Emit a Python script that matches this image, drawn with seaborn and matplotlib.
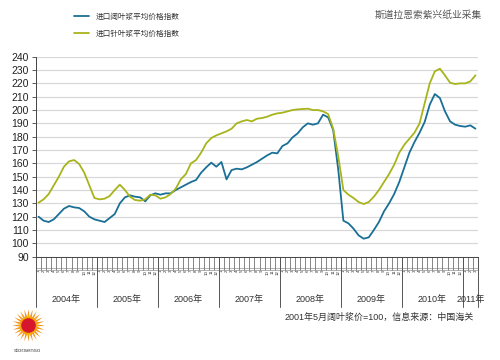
import numpy as np
import pandas as pd
import matplotlib
matplotlib.use("Agg")
import matplotlib.pyplot as plt
import seaborn as sns
from matplotlib.lines import Line2D

# ---------------- data ----------------
years = [2004, 2005, 2006, 2007, 2008, 2009, 2010, 2011]
n_months = 87  # Jan 2004 .. Mar 2011
month_labels = [str(m % 12 + 1) for m in range(n_months)]

hardwood = [120, 117, 116, 118, 122, 126, 128, 127, 126.5, 124,
            120, 118, 117, 116, 119, 122, 130, 134.5, 136, 135,
            134.5, 131.5, 136, 137.5, 136.5, 137.5, 137.5, 140, 142, 144,
            146, 147.5, 153, 157, 160.5, 157.5, 161, 148, 155, 156,
            155.5, 157, 159, 161, 163.5, 166, 168, 167.5, 173, 175,
            179.5, 182.5, 187, 190, 189, 190, 196.5, 194.5, 185, 155,
            117, 115, 111, 106, 103.5, 104.5, 110, 116, 124, 130,
            137, 146, 157, 168, 176, 183, 191, 204, 212, 209,
            199, 191.5, 189, 188, 187.5, 188.5, 186]

softwood = [130.5, 133, 137, 143.5, 150, 157.5, 161.5, 162.5, 159.5, 153,
            143.5, 134, 133, 133.5, 135.5, 140, 144, 140, 135, 132.5,
            132, 133, 136.5, 136, 133.5, 134.5, 137, 141, 148, 152,
            160, 162.5, 168, 175, 179, 181, 182.5, 184, 186, 190,
            191.5, 192.5, 191.5, 193.5, 194, 195, 196.5, 197.5, 198, 199,
            200, 200.5, 200.75, 201, 200, 200, 199, 197, 186, 165,
            140, 136.5, 134, 131, 129.5, 131, 135, 140, 146, 152,
            159, 168, 174, 178.5, 183, 190, 205, 220, 229, 231,
            226, 220.5, 219.5, 220, 220, 221.5, 226]

series_names = ["进口阔叶浆平均价格指数", "进口针叶浆平均价格指数"]
colors = ["#1a6f96", "#a8b41c"]

df = pd.DataFrame({
    "idx": list(range(n_months)) * 2,
    "value": hardwood + softwood,
    "series": [series_names[0]] * n_months + [series_names[1]] * n_months,
})

# ---------------- style ----------------
sns.set_style("white")
plt.rcParams["font.family"] = ["Liberation Sans", "Noto Sans CJK SC", "DejaVu Sans"]

fig = plt.figure(figsize=(5, 3.6), dpi=100)
ax = fig.add_axes([0.072, 0.287, 0.884, 0.5555])

sns.lineplot(data=df, x="idx", y="value", hue="series",
             palette=dict(zip(series_names, colors)), linewidth=1.3, ax=ax)
handles, labels = ax.get_legend_handles_labels()
ax.get_legend().remove()

ax.set_xlim(-0.5, n_months - 0.5)
ax.set_ylim(90, 240)
ax.set_yticks(np.arange(90, 241, 10))
ax.tick_params(axis="y", left=True, labelsize=7.5, length=3, width=0.6, color="#444",
               pad=2, labelcolor="#222")
ax.yaxis.grid(True, color="#d8d8d8", linewidth=0.9)
ax.xaxis.grid(False)
ax.set_xlabel("")
ax.set_ylabel("")

for s in ["top", "right"]:
    ax.spines[s].set_visible(False)
for s in ["left", "bottom"]:
    ax.spines[s].set_color("#444")
    ax.spines[s].set_linewidth(0.7)

# month ticks (boundaries) and month labels (centres)
ax.set_xticks(np.arange(-0.5, n_months, 1.0))
ax.set_xticklabels([])
ax.tick_params(axis="x", which="major", bottom=True, length=9, width=0.5,
               color="#555", direction="out")
ax.set_xticks(np.arange(n_months), minor=True)
ax.set_xticklabels(month_labels, minor=True, rotation=90, fontsize=3.2, color="#333")
ax.tick_params(axis="x", which="minor", bottom=True, length=0, pad=9.5)

xt = ax.get_xaxis_transform()
for yy in (-0.057, -0.067):
    ax.add_line(Line2D([0, 1], [yy, yy], transform=ax.transAxes, color="#777",
                       lw=0.4, clip_on=False))

# year dividers & labels
for k, yr in enumerate(years):
    start = 12 * k - 0.5
    ax.axvline(start, ymin=-0.25, ymax=0, clip_on=False, color="#555", lw=0.7)
    end = min(start + 12, n_months - 0.5)
    ax.text((start + end) / 2, -0.2165, f"{yr}年", transform=xt, ha="center",
            va="center", fontsize=6.5, color="#333")
ax.axvline(n_months - 0.5, ymin=-0.25, ymax=0, clip_on=False, color="#555", lw=0.7)

# legend
fig.legend(handles, labels, loc="upper left", bbox_to_anchor=(74 / 500, 1 - 13 / 360),
           frameon=False, fontsize=5.5, handlelength=2.0, handletextpad=0.9,
           labelspacing=1.3, borderpad=0, borderaxespad=0)
for t in fig.legends[0].get_texts():
    t.set_color("#333")

# header & footnote
fig.text(482 / 500, 1 - 15 / 360, "斯道拉恩索紫兴纸业采集", ha="right", va="center",
         fontsize=7, color="#555")
fig.text(474 / 500, 1 - 317 / 360, "2001年5月阔叶浆价=100，信息来源：中国海关",
         ha="right", va="center", fontsize=6.5, color="#333")

# logo
lax = fig.add_axes([8 / 500, 1 - 348 / 360, 40 / 500, 40 / 360])
lax.set_xlim(-1, 1)
lax.set_ylim(-1, 1)
lax.set_aspect("equal")
lax.axis("off")
lax.scatter([0], [0.15], s=560, marker=(24, 1, 0), color="#f28c1c", linewidths=0)
lax.scatter([0], [0.15], s=330, marker=(24, 1, 0), color="#f7b000", linewidths=0)
lax.scatter([0], [0.15], s=110, marker="o", color="#d6162c", linewidths=0)
fig.text(28 / 500, 1 - 350 / 360, "storaenso", ha="center", va="center",
         fontsize=4.5, color="#555")

fig.savefig("out.png", dpi=100)
